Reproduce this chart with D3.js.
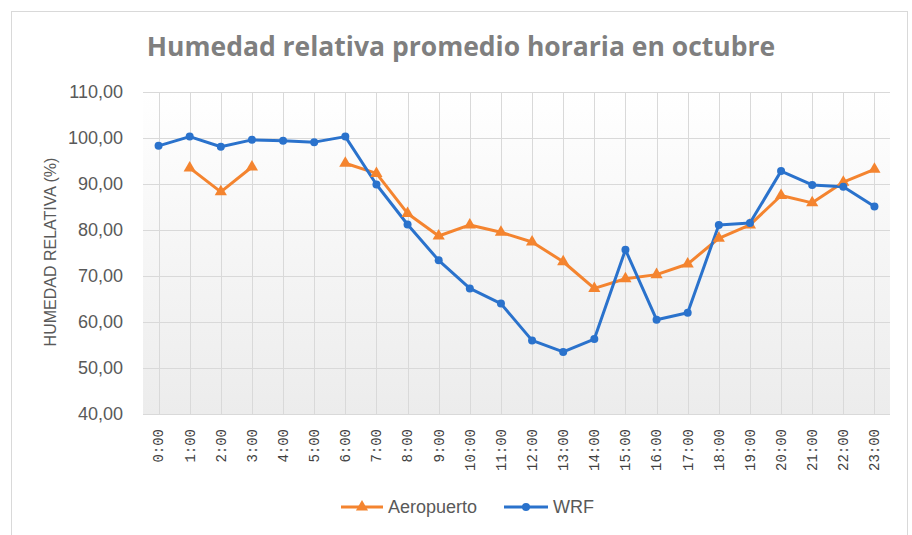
<!DOCTYPE html>
<head>
  <meta charset="utf-8">
  <script src="https://d3js.org/d3.v7.min.js"></script>
  <style>
    body { margin:0; background:#fff; }
    svg { display:block; }
    .lbl { font-family: "Liberation Sans", Arial, sans-serif; fill:#595959; }
  </style>
</head>
<body>
  <script>
    // data
    var horas = ["0:00","1:00","2:00","3:00","4:00","5:00","6:00","7:00","8:00","9:00","10:00","11:00",
                 "12:00","13:00","14:00","15:00","16:00","17:00","18:00","19:00","20:00","21:00","22:00","23:00"];
    var aeropuerto = [null, 93.5, 88.3, 93.7, null, null, 94.5, 92.3, 83.6, 78.7, 81.1, 79.5,
                      77.4, 73.1, 67.3, 69.4, 70.3, 72.6, 78.2, 81.1, 87.5, 85.9, 90.4, 93.2];
    var wrf = [98.3, 100.3, 98.1, 99.6, 99.4, 99.1, 100.3, 89.9, 81.2, 73.4, 67.3, 64.0,
               56.0, 53.5, 56.3, 75.7, 60.5, 62.0, 81.1, 81.5, 92.8, 89.8, 89.4, 85.1];
    var yTicks = [40, 50, 60, 70, 80, 90, 100, 110];

    var W = 912, H = 535;
    var pLeft = 143, pRight = 890, pTop = 92, pBottom = 414;

    var svg = d3.select("body").append("svg").attr("width", W).attr("height", H);

    var grad = svg.append("defs").append("linearGradient")
        .attr("id", "bg").attr("x1", 0).attr("y1", 0).attr("x2", 0).attr("y2", 1);
    grad.append("stop").attr("offset", "0%").attr("stop-color", "#ffffff");
    grad.append("stop").attr("offset", "100%").attr("stop-color", "#ececec");

    // chart border
    svg.append("rect").attr("x", 11.5).attr("y", 11.5).attr("width", 896).attr("height", 540)
        .attr("fill", "#fff").attr("stroke", "#d9d9d9");

    var x = d3.scaleBand().domain(horas).range([pLeft, pRight]);
    var y = d3.scaleLinear().domain([40, 110]).range([pBottom, pTop]);
    var cx = function(h) { return x(h) + x.bandwidth() / 2; };

    svg.append("rect").attr("x", pLeft).attr("y", pTop).attr("width", pRight - pLeft).attr("height", pBottom - pTop)
        .attr("fill", "url(#bg)");

    // gridlines
    svg.append("g").selectAll("line").data(yTicks).enter().append("line")
        .attr("x1", pLeft).attr("x2", pRight)
        .attr("y1", function(d) { return Math.round(y(d)) + 0.5; })
        .attr("y2", function(d) { return Math.round(y(d)) + 0.5; })
        .attr("stroke", "#d9d9d9");
    svg.append("g").selectAll("line").data(horas).enter().append("line")
        .attr("x1", function(d) { return Math.round(cx(d)) + 0.5; })
        .attr("x2", function(d) { return Math.round(cx(d)) + 0.5; })
        .attr("y1", pTop).attr("y2", pBottom)
        .attr("stroke", "#d9d9d9");

    // y axis labels
    svg.append("g").selectAll("text").data(yTicks).enter().append("text")
        .attr("class", "lbl")
        .attr("x", 123).attr("y", function(d) { return y(d); })
        .attr("dy", "0.35em").attr("text-anchor", "end")
        .style("font-size", "18px")
        .text(function(d) { return d3.format(".2f")(d).replace(".", ","); });

    // x axis labels
    svg.append("g").selectAll("text").data(horas).enter().append("text")
        .attr("transform", function(d) { return "translate(" + cx(d) + ",429) rotate(-90)"; })
        .attr("dy", "0.35em").attr("text-anchor", "end")
        .style("font-family", "'Liberation Mono', monospace").style("font-size", "14px")
        .attr("fill", "#404040")
        .text(function(d) { return d; });

    // title
    svg.append("text").attr("x", 461).attr("y", 56).attr("text-anchor", "middle")
        .style("font-family", "'Open Sans', sans-serif").style("font-weight", "bold")
        .style("font-size", "26.5px").attr("fill", "#7f7f7f")
        .text("Humedad relativa promedio horaria en octubre");

    // y axis title
    svg.append("text").attr("class", "lbl")
        .attr("transform", "translate(50,252) rotate(-90)")
        .attr("dy", "0.35em").attr("text-anchor", "middle")
        .style("font-size", "16px")
        .text("HUMEDAD RELATIVA (%)");

    var orange = "#f4842f", blue = "#2a72cc";

    var line = function(arr) {
      return d3.line()
        .defined(function(d, i) { return arr[i] !== null; })
        .x(function(d, i) { return cx(horas[i]); })
        .y(function(d, i) { return y(arr[i]); })(arr);
    };

    svg.append("path").attr("d", line(aeropuerto)).attr("fill", "none")
        .attr("stroke", orange).attr("stroke-width", 3).attr("stroke-linejoin", "round");
    svg.append("path").attr("d", line(wrf)).attr("fill", "none")
        .attr("stroke", blue).attr("stroke-width", 3).attr("stroke-linejoin", "round");

    var tri = d3.symbol().type(d3.symbolTriangle).size(64);
    svg.append("g").selectAll("path")
        .data(horas.filter(function(h, i) { return aeropuerto[i] !== null; }))
        .enter().append("path")
        .attr("d", tri)
        .attr("transform", function(h) { return "translate(" + cx(h) + "," + y(aeropuerto[horas.indexOf(h)]) + ")"; })
        .attr("fill", orange);

    svg.append("g").selectAll("circle").data(horas).enter().append("circle")
        .attr("cx", function(h) { return cx(h); })
        .attr("cy", function(h, i) { return y(wrf[i]); })
        .attr("r", 4).attr("fill", blue);

    // legend
    var leg = svg.append("g");
    leg.append("line").attr("x1", 341).attr("x2", 383).attr("y1", 507).attr("y2", 507)
        .attr("stroke", orange).attr("stroke-width", 3);
    leg.append("path").attr("d", tri).attr("transform", "translate(362,507)").attr("fill", orange);
    leg.append("text").attr("class", "lbl").attr("x", 388).attr("y", 507).attr("dy", "0.35em")
        .style("font-size", "18px").text("Aeropuerto");
    leg.append("line").attr("x1", 504).attr("x2", 548).attr("y1", 507).attr("y2", 507)
        .attr("stroke", blue).attr("stroke-width", 3);
    leg.append("circle").attr("cx", 526).attr("cy", 507).attr("r", 4).attr("fill", blue);
    leg.append("text").attr("class", "lbl").attr("x", 553).attr("y", 507).attr("dy", "0.35em")
        .style("font-size", "18px").text("WRF");
  </script>
</body>
